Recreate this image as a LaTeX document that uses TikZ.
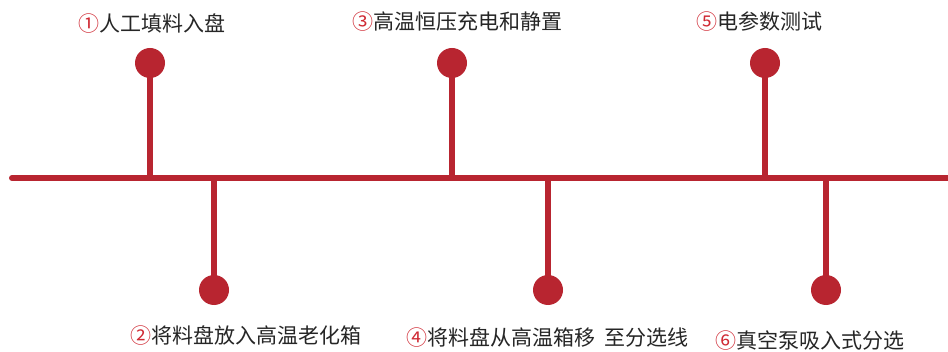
\documentclass[tikz,border=0pt]{standalone}
\usepackage{fontspec}
\newfontfamily\cjk{Noto Sans CJK SC}
\definecolor{tlred}{HTML}{B82530}
\definecolor{numred}{HTML}{D02A34}
\definecolor{txtgray}{HTML}{262626}
\begin{document}
\begin{tikzpicture}[x=1pt,y=1pt,
  dot/.style={circle,fill=tlred,minimum size=30pt,inner sep=0pt},
  stem/.style={draw=tlred,line width=6pt},
  lbl/.style={anchor=west,inner sep=0pt,font=\cjk\fontsize{21pt}{23pt}\selectfont,text=txtgray},
  num/.style={text=numred}]
\fill[white] (0,0) rectangle (948,351);
\useasboundingbox (0,0) rectangle (948,351);
% main line
\coordinate (L) at (12,173);
\coordinate (R) at (952,173);
\draw[stem,line cap=round] (L) -- (R);
% junctions
\coordinate (j1) at (150,173);
\coordinate (j2) at (214,173);
\coordinate (j3) at (452,173);
\coordinate (j4) at (548,173);
\coordinate (j5) at (765,173);
\coordinate (j6) at (826,173);
% dots
\node[dot] (d1) at (150,288) {};
\node[dot] (d2) at (214,61) {};
\node[dot] (d3) at (452,288) {};
\node[dot] (d4) at (548,61) {};
\node[dot] (d5) at (765,288) {};
\node[dot] (d6) at (826,61) {};
% stems
\draw[stem] (j1) -- (d1.center);
\draw[stem] (j2) -- (d2.center);
\draw[stem] (j3) -- (d3.center);
\draw[stem] (j4) -- (d4.center);
\draw[stem] (j5) -- (d5.center);
\draw[stem] (j6) -- (d6.center);
% labels
\node[lbl] (t1) at (78,328) {\textcolor{numred}{①}人工填料入盘};
\node[lbl] (t3) at (352,329) {\textcolor{numred}{③}高温恒压充电和静置};
\node[lbl] (t5) at (696,329) {\textcolor{numred}{⑤}电参数测试};
\node[lbl] (t2) at (130,16) {\textcolor{numred}{②}将料盘放入高温老化箱};
\node[lbl] (t4) at (406,14) {\textcolor{numred}{④}将料盘从高温箱移\hspace{0.45em}至分选线};
\node[lbl] (t6) at (715,10) {\textcolor{numred}{⑥}真空泵吸入式分选};
\end{tikzpicture}
\end{document}
